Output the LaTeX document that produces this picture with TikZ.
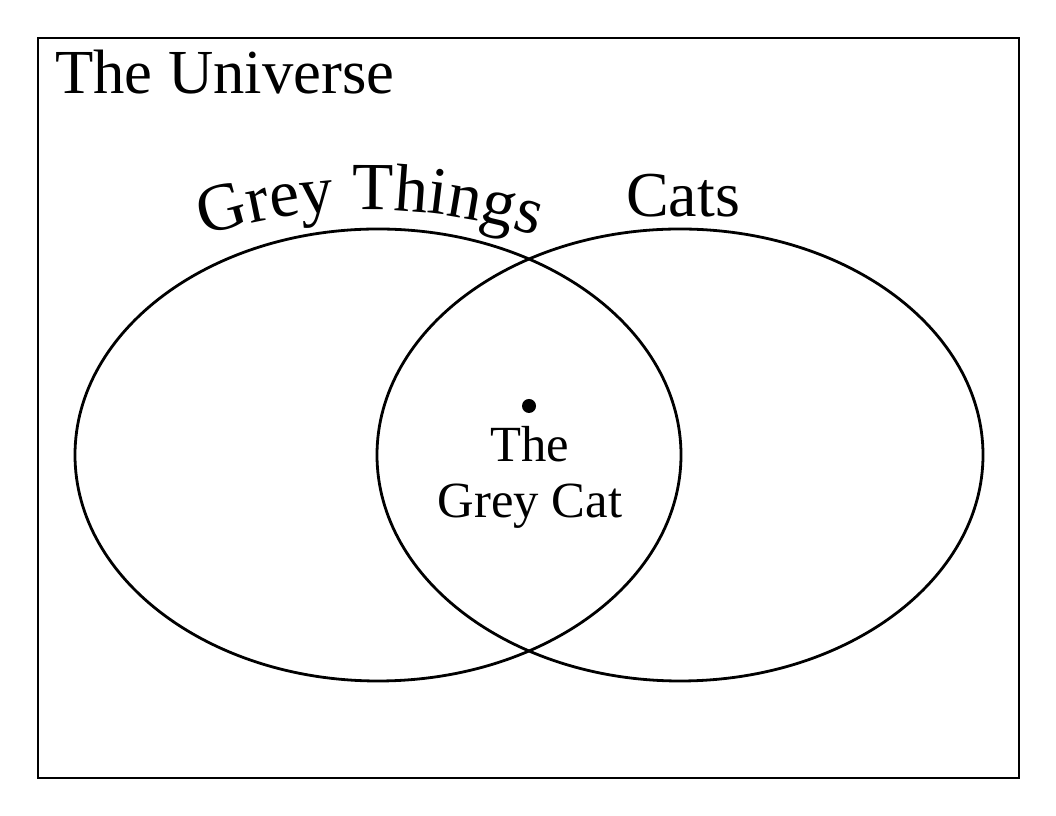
\documentclass[tikz,border=0pt]{standalone}
\usepackage{fontspec}
\setmainfont{Liberation Serif}
\usetikzlibrary{decorations.text}
\begin{document}
\begin{tikzpicture}[x=0.75pt,y=0.75pt,
  line/.style={line width=2.1pt,black},
  big/.style={font=\fontsize{47}{50}\selectfont, inner sep=0pt},
  mid/.style={font=\fontsize{38}{42}\selectfont, inner sep=0pt}]
\useasboundingbox (0,0) rectangle (1056,816);
\draw[line] (38,38) rectangle (1019,778);
\node[big, anchor=base west] (universe) at (55,722) {The Universe};
\draw[line] (378,361) ellipse [x radius=303, y radius=226];
\draw[line] (680,361) ellipse [x radius=303, y radius=226];
\path[postaction={decorate}, decoration={text along path, text align=center,
  text={|\fontsize{50.5}{51}\selectfont|Grey Things}}]
  (370,62) ++(108.4:544) arc[start angle=108.4, end angle=71.6, radius=544];
\node[big, anchor=base, font=\fontsize{48}{50}\selectfont] (cats) at (683,599) {Cats};
\fill (529,410) circle[radius=7];
\node[mid, anchor=base] (the) at (530,354) {The};
\node[mid, anchor=base] (greycat) at (530,298) {Grey Cat};
\end{tikzpicture}
\end{document}
